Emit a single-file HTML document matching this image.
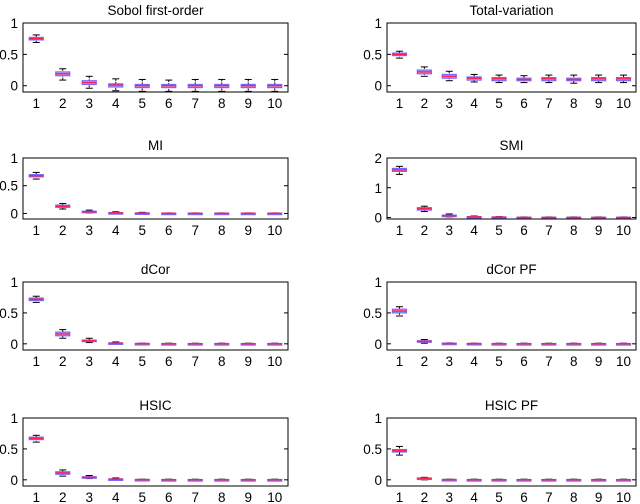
<!DOCTYPE html>
<html><head><meta charset="utf-8"><style>
body{margin:0;background:#fff}
svg{display:block;font-family:"Liberation Sans",sans-serif}
</style></head><body>
<svg id="c" width="640" height="504"></svg>
<script>
const cats=[1,2,3,4,5,6,7,8,9,10];
const titles=["Sobol first-order","Total-variation","MI","SMI","dCor","dCor PF","HSIC","HSIC PF"];
const yTicks=[[0,0.5,1],[0,0.5,1],[0,0.5,1],[0,1,2],[0,0.5,1],[0,0.5,1],[0,0.5,1],[0,0.5,1]];
const yMax=[1,1,1,2,1,1,1,1];
const yMin=[-0.1,-0.1,-0.1,-0.05,-0.1,-0.1,-0.1,-0.1];
const medians=[
[0.75,0.19,0.05,0.01,0,0,0,0,0,0],
[0.5,0.22,0.15,0.12,0.11,0.1,0.11,0.1,0.11,0.11],
[0.68,0.13,0.03,0.01,0.005,0.003,0.003,0.003,0.003,0.003],
[1.6,0.3,0.06,0.02,0.01,0,0,0,0,0],
[0.72,0.16,0.05,0.01,0.003,0.002,0.002,0.002,0.002,0.002],
[0.53,0.04,0.005,0.003,0.002,0.002,0.002,0.002,0.002,0.002],
[0.67,0.11,0.04,0.01,0.003,0.002,0.002,0.002,0.002,0.002],
[0.47,0.02,0.003,0.002,0.002,0.002,0.002,0.002,0.002,0.002]];
const q1s=[
[0.73,0.16,0.02,-0.02,-0.03,-0.03,-0.03,-0.03,-0.03,-0.03],
[0.48,0.19,0.12,0.09,0.08,0.08,0.08,0.08,0.08,0.08],
[0.66,0.11,0.02,0,0,0,0,0,0,0],
[1.55,0.25,0.04,0.01,0,-0.01,-0.01,-0.01,-0.01,-0.01],
[0.7,0.13,0.04,0.005,0,0,0,0,0,0],
[0.5,0.03,0,0,0,0,0,0,0,0],
[0.65,0.09,0.03,0.005,0,0,0,0,0,0],
[0.45,0.01,0,0,0,0,0,0,0,0]];
const q3s=[
[0.77,0.22,0.08,0.03,0.02,0.02,0.02,0.02,0.02,0.02],
[0.52,0.25,0.18,0.14,0.13,0.12,0.13,0.12,0.13,0.13],
[0.7,0.15,0.04,0.015,0.01,0.006,0.006,0.006,0.006,0.006],
[1.65,0.33,0.08,0.03,0.02,0.01,0.01,0.01,0.01,0.01],
[0.74,0.19,0.06,0.015,0.006,0.004,0.004,0.004,0.004,0.004],
[0.56,0.05,0.01,0.006,0.004,0.004,0.004,0.004,0.004,0.004],
[0.69,0.13,0.05,0.015,0.006,0.004,0.004,0.004,0.004,0.004],
[0.49,0.03,0.006,0.004,0.004,0.004,0.004,0.004,0.004,0.004]];
const lows=[
[0.69,0.09,-0.04,-0.08,-0.09,-0.09,-0.09,-0.09,-0.09,-0.09],
[0.44,0.15,0.08,0.06,0.05,0.05,0.05,0.04,0.05,0.05],
[0.62,0.08,0.01,0,0,0,0,0,0,0],
[1.45,0.2,0.02,0,0,-0.02,-0.02,-0.02,-0.02,-0.02],
[0.67,0.09,0.02,0,0,0,0,0,0,0],
[0.45,0.01,0,0,0,0,0,0,0,0],
[0.61,0.06,0.02,0,0,0,0,0,0,0],
[0.4,0,0,0,0,0,0,0,0,0]];
const highs=[
[0.81,0.27,0.15,0.11,0.1,0.09,0.1,0.1,0.1,0.1],
[0.55,0.3,0.23,0.18,0.17,0.16,0.17,0.17,0.17,0.17],
[0.74,0.18,0.06,0.03,0.02,0.01,0.01,0.01,0.01,0.01],
[1.72,0.38,0.12,0.05,0.03,0.02,0.02,0.02,0.02,0.02],
[0.77,0.23,0.09,0.03,0.01,0.01,0.01,0.01,0.01,0.01],
[0.6,0.07,0.015,0.01,0.01,0.01,0.01,0.01,0.01,0.01],
[0.72,0.16,0.07,0.03,0.01,0.01,0.01,0.01,0.01,0.01],
[0.54,0.04,0.01,0.01,0.01,0.01,0.01,0.01,0.01,0.01]];
const svg=document.getElementById('c');
const NS='http://www.w3.org/2000/svg';
function mk(t,a,p){const e=document.createElementNS(NS,t);for(const k in a)e.setAttribute(k,a[k]);(p||svg).appendChild(e);return e;}
const cols=[[23,288],[387,636]];
const rows=[[23,92],[158,219],[282,350],[418,486]];
for(let i=0;i<8;i++){
  const [x0,x1]=cols[i%2],[y0,y1]=rows[Math.floor(i/2)];
  const g=mk('g',{});
  
  
  const X=v=>x0+(v-0.5)/10*(x1-x0);
  const Y=v=>y1-(v-yMin[i])/(yMax[i]-yMin[i])*(y1-y0);
  const t=mk('text',{x:(x0+x1)/2,y:y0-8,'text-anchor':'middle','font-size':13.5},g);t.textContent=titles[i];
  
  yTicks[i].forEach(v=>{const y=Y(v);
    mk('line',{x1:x0,x2:x0+4,y1:y,y2:y,stroke:'#000'},g);mk('line',{x1:x1,x2:x1-4,y1:y,y2:y,stroke:'#000'},g);
    const l=mk('text',{x:x0-5,y:y+5,'text-anchor':'end','font-size':13.5},g);l.textContent=v;
    });
  cats.forEach((c,j)=>{const x=X(c);
    const l=mk('text',{x:x,y:y1+16,'text-anchor':'middle','font-size':13.5},g);l.textContent=c;
    
    const b=mk('g',{},g);
    
    const lo=Y(lows[i][j]),hi=Y(highs[i][j]),a=Y(q3s[i][j]),d=Y(q1s[i][j]),m=Y(medians[i][j]);
    mk('line',{x1:x,x2:x,y1:hi,y2:lo,stroke:'#000','stroke-dasharray':'2,1'},b);
    mk('line',{x1:x-3.5,x2:x+3.5,y1:hi,y2:hi,stroke:'#000'},b);
    mk('line',{x1:x-3.5,x2:x+3.5,y1:lo,y2:lo,stroke:'#000'},b);
    mk('rect',{x:x-7,y:a,width:14,height:Math.max(d-a,1.5),fill:'#c9b2f2',stroke:'#7a66ff','stroke-width':1.2},b);
    mk('line',{x1:x-7,x2:x+7,y1:m,y2:m,stroke:'#ff2050','stroke-width':1.5},b);
  });
  mk('rect',{x:x0,y:y0,width:x1-x0,height:y1-y0,fill:'none',stroke:'#000'},g);
}
</script>
</body></html>
